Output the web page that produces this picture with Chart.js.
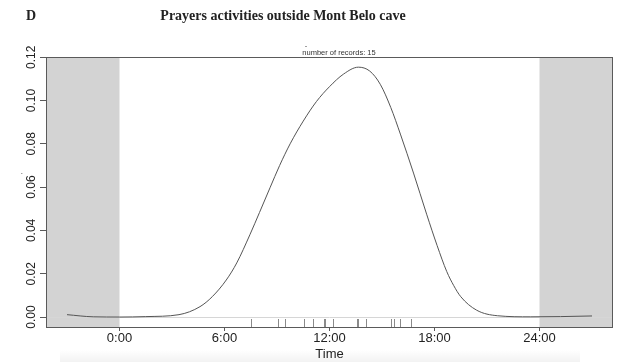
<!DOCTYPE html>
<html>
<head>
<meta charset="utf-8">
<script src="https://cdn.jsdelivr.net/npm/chart.js@4.4.1/dist/chart.umd.min.js"></script>
<style>
  html, body { margin: 0; padding: 0; background: #fff; }
  #wrap { width: 621px; height: 362px; }
</style>
</head>
<body>
<div id="wrap"><canvas id="chart" width="621" height="362"></canvas></div>
<script>
// density curve (hour of day, density)
const hours = [-3, -1.5, 0, 1.5, 3.4, 4.6, 5.3, 6.1, 6.7, 7.45, 8.0, 8.6, 9.15, 9.75, 10.5, 11.25, 12.0, 12.8, 13.65, 14.3, 14.9, 15.5, 16.05, 16.8, 17.55, 18.15, 18.7, 19.1, 19.5, 20.4, 21.6, 23.5, 25.2, 27];
const density = [0.0011, 0.0001, 0.0, 0.0002, 0.0011, 0.0048, 0.0094, 0.0171, 0.025, 0.038, 0.0483, 0.0597, 0.07, 0.08, 0.0905, 0.0995, 0.1064, 0.1122, 0.1154, 0.1136, 0.1075, 0.0968, 0.0845, 0.0665, 0.0475, 0.033, 0.021, 0.0145, 0.0094, 0.0032, 0.0006, 0.0001, 0.0002, 0.0005];

// times of the 15 records (rug)
const records = [7.54, 9.07, 9.45, 10.56, 11.07, 11.7, 11.72, 12.22, 13.55, 13.62, 14.07, 15.52, 15.69, 16.0, 16.67];

const xTicks = [0, 6, 12, 18, 24];
const xTickLabels = ["0:00", "6:00", "12:00", "18:00", "24:00"];
const yTicks = [0, 0.02, 0.04, 0.06, 0.08, 0.1, 0.12];
const yTickLabels = ["0.00", "0.02", "0.04", "0.06", "0.08", "0.10", "0.12"];
const nightStart = 0;
const nightEnd = 24;

const sans = "'Liberation Sans', Arial, sans-serif";
const serif = "'Liberation Serif', 'Times New Roman', serif";

const decorPlugin = {
  id: "decor",
  beforeDraw(chart) {
    const ctx = chart.ctx;
    ctx.save();
    ctx.fillStyle = "#fff";
    ctx.fillRect(0, 0, chart.width, chart.height);
    // faint shadow along the bottom edge of the scan
    const g = ctx.createLinearGradient(0, 350, 0, 362);
    g.addColorStop(0, "rgba(0,0,0,0)");
    g.addColorStop(1, "rgba(0,0,0,0.05)");
    ctx.fillStyle = g;
    ctx.fillRect(60, 350, 520, 12);
    ctx.restore();
  },
  beforeDatasetsDraw(chart) {
    const { ctx, chartArea: a, scales } = chart;
    const x = scales.x, y = scales.y;
    ctx.save();
    // night shading
    ctx.fillStyle = "#d3d3d3";
    const x0 = x.getPixelForValue(nightStart);
    const x1 = x.getPixelForValue(nightEnd);
    ctx.fillRect(a.left, a.top, x0 - a.left, a.bottom - a.top);
    ctx.fillRect(x1, a.top, a.right - x1, a.bottom - a.top);
    // zero line
    const yz = Math.round(y.getPixelForValue(0)) + 0.5;
    ctx.strokeStyle = "#d6d6d6";
    ctx.lineWidth = 1;
    ctx.beginPath();
    ctx.moveTo(a.left, yz);
    ctx.lineTo(a.right, yz);
    ctx.stroke();
    // rug
    ctx.strokeStyle = "#8a8a8a";
    records.forEach(t => {
      const px = Math.round(x.getPixelForValue(t)) + 0.5;
      ctx.beginPath();
      ctx.moveTo(px, a.bottom - 8);
      ctx.lineTo(px, a.bottom);
      ctx.stroke();
    });
    ctx.restore();
  },
  afterDraw(chart) {
    const { ctx, chartArea: a, scales } = chart;
    const y = scales.y;
    ctx.save();
    // box
    ctx.strokeStyle = "#5a5a5a";
    ctx.lineWidth = 1;
    ctx.strokeRect(a.left + 0.5, a.top + 0.5, a.right - a.left - 1, a.bottom - a.top);
    // rotated y tick labels
    ctx.fillStyle = "#222";
    ctx.font = "12px " + sans;
    ctx.textAlign = "center";
    ctx.textBaseline = "middle";
    yTicks.forEach((v, i) => {
      ctx.save();
      ctx.translate(32, y.getPixelForValue(v));
      ctx.rotate(-Math.PI / 2);
      ctx.fillText(yTickLabels[i], 0, 0);
      ctx.restore();
    });
    ctx.font = "8px " + sans;
    ctx.fillText("\u00b4", 22, 176);
    // headings
    ctx.font = "bold 14px " + serif;
    ctx.textBaseline = "alphabetic";
    ctx.textAlign = "center";
    ctx.fillText("Prayers activities outside Mont Belo cave", 283, 19.5);
    ctx.textAlign = "left";
    ctx.fillText("D", 26, 19.5);
    ctx.textAlign = "center";
    ctx.font = "7.5px " + sans;
    ctx.fillStyle = "#333";
    ctx.fillText("number of records: 15", 339, 55);
    ctx.fillText("-", 306, 48);
    ctx.restore();
  }
};

new Chart(document.getElementById("chart"), {
  type: "line",
  data: {
    datasets: [{
      data: hours.map((h, i) => ({ x: h, y: density[i] })),
      borderColor: "#555",
      borderWidth: 1,
      pointRadius: 0,
      fill: false,
      cubicInterpolationMode: "monotone"
    }]
  },
  options: {
    responsive: false,
    animation: false,
    events: [],
    layout: { padding: { left: 0, right: 8, top: 57, bottom: 0 } },
    plugins: { legend: { display: false }, tooltip: { enabled: false } },
    scales: {
      x: {
        type: "linear",
        min: -4.2,
        max: 28.2,
        afterBuildTicks: s => { s.ticks = xTicks.map(v => ({ value: v })); },
        afterFit: s => { s.height = 35; },
        ticks: {
          autoSkip: false,
          maxRotation: 0,
          padding: 0,
          color: "#222",
          font: { family: sans, size: 13 },
          callback: v => xTickLabels[xTicks.indexOf(v)]
        },
        grid: { drawOnChartArea: false, tickLength: 4, color: "#5a5a5a" },
        border: { display: false },
        title: { display: true, text: "Time", color: "#222", font: { family: sans, size: 13 }, padding: { top: 0, bottom: 0 } }
      },
      y: {
        type: "linear",
        min: -0.0046,
        max: 0.1201,
        afterBuildTicks: s => { s.ticks = yTicks.map(v => ({ value: v })); },
        afterFit: s => { s.width = 46; },
        ticks: { display: false },
        grid: { drawOnChartArea: false, tickLength: 6, color: "#5a5a5a" },
        border: { display: false }
      }
    }
  },
  plugins: [decorPlugin]
});
</script>
</body>
</html>
